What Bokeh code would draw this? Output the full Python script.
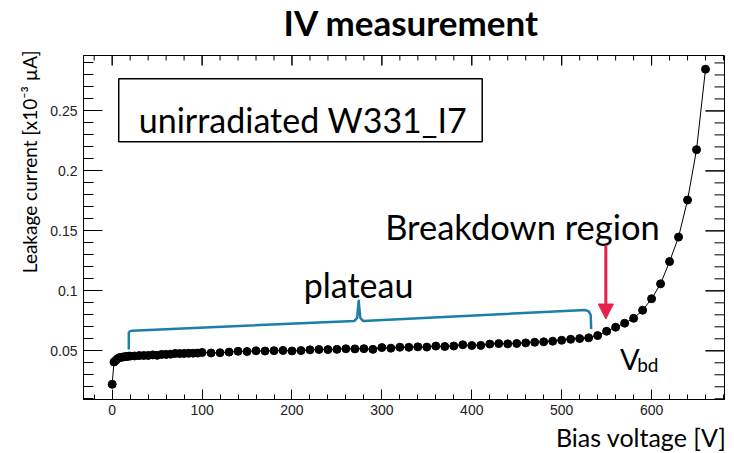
from bokeh.plotting import figure
from bokeh.models import (Range1d, FixedTicker, Label, Arrow, Title,
                          NormalHead, BoxAnnotation, ColumnDataSource)
from bokeh.embed import file_html
from bokeh.resources import INLINE

# ---------------- data ----------------
voltage = [0, 2, 4, 6, 8, 10, 12, 14, 16, 18, 20, 25, 30, 35, 40, 45, 50, 55,
           60, 65, 70, 75, 80, 85, 90, 95, 100, 110, 120, 130, 140, 150, 160,
           170, 180, 190, 200, 210, 220, 230, 240, 250, 260, 270, 280, 290,
           300, 310, 320, 330, 340, 350, 360, 370, 380, 390, 400, 410, 420,
           430, 440, 450, 460, 470, 480, 490, 500, 510, 520, 530, 540, 550,
           560, 570, 580, 590, 600, 610, 620, 630, 640, 650, 660]
current = [0.0221, 0.0406, 0.0420, 0.0434, 0.0442, 0.0446, 0.0448, 0.0451,
           0.0453, 0.0455, 0.0456, 0.0457, 0.0460, 0.0461, 0.0461, 0.0466,
           0.0462, 0.0470, 0.0470, 0.0472, 0.0478, 0.0477, 0.0478, 0.0479,
           0.0480, 0.0481, 0.0486, 0.0482, 0.0484, 0.0489, 0.0496, 0.0494,
           0.0500, 0.0498, 0.0501, 0.0503, 0.0499, 0.0502, 0.0508, 0.0511,
           0.0510, 0.0512, 0.0517, 0.0516, 0.0518, 0.0512, 0.0527, 0.0522,
           0.0530, 0.0529, 0.0533, 0.0531, 0.0539, 0.0536, 0.0540, 0.0550,
           0.0544, 0.0545, 0.0556, 0.0560, 0.0558, 0.0561, 0.0566, 0.0571,
           0.0575, 0.0580, 0.0588, 0.0596, 0.0602, 0.0608, 0.0627, 0.0663,
           0.0697, 0.0730, 0.0771, 0.0838, 0.0934, 0.1058, 0.1244, 0.1448,
           0.1757, 0.2177, 0.2848]

x_major_ticks = [0, 100, 200, 300, 400, 500, 600]
x_minor_ticks = list(range(-20, 681, 20))
y_major_ticks = [0.05, 0.1, 0.15, 0.2, 0.25]
y_tick_labels = ["0.05", "0.1", "0.15", "0.2", "0.25"]
y_minor_ticks = [round(0.01 * k, 2) for k in range(1, 30)]

title_text = "IV measurement"
x_label = "Bias voltage [V]"
y_label = "Leakage current [x10\u207b\u00b3 \u00b5A]"
sample_label = "unirradiated W331_I7"
breakdown_label = "Breakdown region"
plateau_label = "plateau"

# brace drawn over the plateau (data coordinates)
brace_x = [18.5, 18.5, 19.5, 22.2, 269.5, 272.5, 274.2, 276.0, 279.0, 526.5,
           530.0, 532.3, 532.8]
brace_y = [0.0511, 0.0650, 0.0662, 0.0668, 0.0749, 0.0775, 0.0917, 0.0775,
           0.0749, 0.0840, 0.0828, 0.0798, 0.0682]

RED = "#e8204e"
BLUE = "#1b7fa8"
FONT = "Lato"

X0, X1 = -31.9, 681.1
Y0, Y1 = 0.0094, 0.2962
W, H = 734, 453
BL, BR, BT, BB = 83, 10, 55, 52
FW, FH = W - BL - BR, H - BT - BB

p = figure(width=W, height=H, output_backend="svg", toolbar_location=None,
           x_range=Range1d(X0, X1), y_range=Range1d(Y0, Y1),
           min_border_left=BL, min_border_right=BR, min_border_top=BT,
           min_border_bottom=BB)
p.background_fill_color = "white"
p.border_fill_color = "white"
p.outline_line_color = "black"
p.outline_line_width = 1
p.grid.visible = False

xt = FixedTicker(ticks=x_major_ticks, minor_ticks=x_minor_ticks)
yt = FixedTicker(ticks=y_major_ticks, minor_ticks=y_minor_ticks)

ax = p.xaxis[0]
ax.ticker = xt
ax.major_tick_in, ax.major_tick_out = 10, 0
ax.minor_tick_in, ax.minor_tick_out = 5, 0
ax.major_label_text_font = "Liberation Sans"
ax.major_label_text_font_size = "14px"
ax.major_label_text_color = "#222222"
ax.major_label_standoff = 5

ay = p.yaxis[0]
ay.ticker = yt
ay.major_tick_in, ay.major_tick_out = 19, 0
ay.minor_tick_in, ay.minor_tick_out = 10, 0
ay.major_label_text_font = "Liberation Sans"
ay.major_label_text_font_size = "14px"
ay.major_label_text_color = "#222222"
ay.major_label_standoff = 6
ay.major_label_overrides = {t: s for t, s in zip(y_major_ticks, y_tick_labels)}

# mirrored ticks on the top and right frame edges
dx = (X1 - X0) / FW   # data units per pixel
dy = (Y1 - Y0) / FH
tx0, tx1, ty0, ty1 = [], [], [], []
for t in x_major_ticks + x_minor_ticks:
    if X0 < t < X1:
        ln = 10 if t in x_major_ticks else 5
        tx0.append(t); tx1.append(t); ty0.append(Y1); ty1.append(Y1 - ln * dy)
for t in y_major_ticks + y_minor_ticks:
    if Y0 < t < Y1:
        ln = 19 if t in y_major_ticks else 10
        tx0.append(X1); tx1.append(X1 - ln * dx); ty0.append(t); ty1.append(t)
p.segment(tx0, ty0, tx1, ty1, line_color="black", line_width=1)

src = ColumnDataSource(dict(v=voltage, i=current))
p.line("v", "i", source=src, line_color="black", line_width=1)
p.scatter("v", "i", source=src, size=8, fill_color="black", line_color="black")


def add_text(x, y, text, size, align="center"):
    p.add_layout(Label(x=x, y=y, text=text, text_font=FONT,
                       text_font_size=size, text_align=align,
                       text_baseline="alphabetic", text_color="black"))


# annotations
p.add_layout(BoxAnnotation(left=7.3, right=411.6, top=0.2769, bottom=0.2243,
                           fill_color=None, fill_alpha=0, line_color="black",
                           line_width=1.5, line_alpha=1))
add_text(212.2, 0.2427, sample_label, "34px")
add_text(456.4, 0.1539, breakdown_label, "34.5px")
add_text(274.0, 0.1055, plateau_label, "34px")
add_text(565.0, 0.0438, "V", "29px", align="left")
add_text(584.0, 0.0384, "bd", "19px", align="left")
p.line(brace_x, brace_y, line_color=BLUE, line_width=2.5, line_join="round")
p.add_layout(Arrow(end=NormalHead(size=15, fill_color=RED, line_color=RED),
                   x_start=549.1, y_start=0.1381, x_end=549.1, y_end=0.0765,
                   line_color=RED, line_width=3))

# title (pushed up by an empty spacer panel between it and the frame)
p.add_layout(Title(text=" ", text_font_size="1px", standoff=18,
                   text_color="white"), "above")
p.title.text = title_text
p.title.text_font = FONT
p.title.text_font_size = "35px"
p.title.text_font_style = "bold"
p.title.text_color = "black"
p.title.align = "left"
p.title.vertical_align = "top"
p.title.offset = 200
p.title.standoff = -20

p.add_layout(Title(text=y_label, text_font=FONT, text_font_size="19px",
                   text_font_style="normal", text_color="black",
                   align="right", offset=-5, standoff=14), "left")
p.add_layout(Title(text=x_label, text_font=FONT, text_font_size="25px",
                   text_font_style="normal", text_color="black",
                   align="right", offset=-2, standoff=4), "below")

open("out.html", "w").write(file_html(p, INLINE))
